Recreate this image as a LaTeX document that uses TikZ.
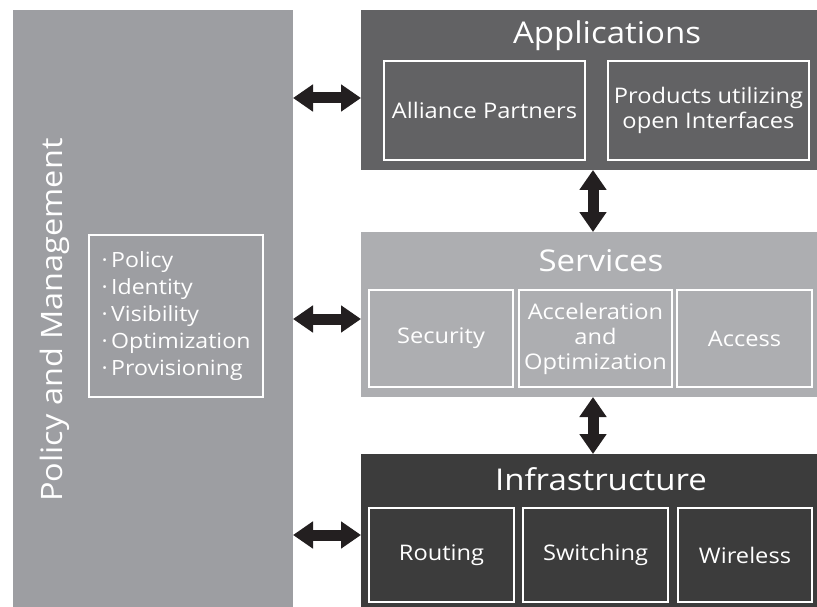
\documentclass[tikz,border=0pt]{standalone}
\usepackage{fontspec}
\setmainfont{Open Sans}[FakeStretch=1.1]
\usetikzlibrary{arrows.meta}
\definecolor{pmgray}{RGB}{157,158,162}
\definecolor{appgray}{RGB}{98,98,100}
\definecolor{svcgray}{RGB}{173,174,177}
\definecolor{infgray}{RGB}{60,60,60}
\definecolor{arrowc}{RGB}{35,31,32}
\begin{document}
\begin{tikzpicture}[x=1pt,y=-1pt,
  layer/.style={inner sep=0pt, outer sep=0pt, anchor=north west, draw=none},
  inbox/.style={draw=white, line width=1.4pt, text=white, align=center, inner sep=0pt, outer sep=0pt, anchor=north west, font=\fontsize{21.5}{25}\selectfont},
  titletxt/.style={text=white, anchor=base, inner sep=0pt, font=\fontsize{30}{30}\selectfont},
  biarrow/.style={arrowc, line width=11pt, {Triangle[length=20pt,width=26pt]}-{Triangle[length=20pt,width=26pt]}}
]
\useasboundingbox (0,0) rectangle (817,607);
\fill[white] (0,0) rectangle (817,607);
% layers
\node[layer, fill=pmgray, minimum width=280pt, minimum height=597pt] (pm) at (13,10) {};
\node[layer, fill=appgray, minimum width=456pt, minimum height=160pt] (app) at (361,10) {};
\node[layer, fill=svcgray, minimum width=456pt, minimum height=165pt] (svc) at (361,232) {};
\node[layer, fill=infgray, minimum width=456pt, minimum height=153pt] (inf) at (361,454) {};
% policy and management
\node[rotate=90, text=white, anchor=base, inner sep=0pt, font=\fontsize{29.5}{30}\selectfont] (pmt) at (62,320) {Policy and Management};
\node[inbox, minimum width=174pt, minimum height=162pt, align=left, font=\fontsize{21}{27}\selectfont] (list) at (89,235)
  {·\,Policy\\ ·\,Identity\\ ·\,Visibility\\ ·\,Optimization\\ ·\,Provisioning};
% applications
\node[titletxt] (appt) at (607,44) {Applications};
\node[inbox, minimum width=201pt, minimum height=99pt] (ap1) at (384,61) {Alliance Partners};
\node[inbox, minimum width=201pt, minimum height=99pt] (ap2) at (608,61) {Products utilizing\\open Interfaces};
% services
\node[titletxt] (svct) at (601,271) {Services};
\node[inbox, minimum width=144pt, minimum height=97pt] (sv1) at (369,290) {Security};
\node[inbox, minimum width=153pt, minimum height=97pt] (sv2) at (519,290) {Acceleration\\and\\Optimization};
\node[inbox, minimum width=135pt, minimum height=97pt] (sv3) at (677,290) {Access};
% infrastructure
\node[titletxt] (inft) at (601,490) {Infrastructure};
\node[inbox, minimum width=145pt, minimum height=94pt] (in1) at (369,508) {Routing};
\node[inbox, minimum width=145pt, minimum height=94pt] (in2) at (523,508) {Switching};
\node[inbox, minimum width=134pt, minimum height=94pt] (in3) at (678,508) {Wireless};
% arrows
\draw[biarrow] (pm.east |- 0,98) -- (app.west |- 0,98);
\draw[biarrow] (pm.east |- 0,319) -- (svc.west |- 0,319);
\draw[biarrow] (pm.east |- 0,535) -- (inf.west |- 0,535);
\draw[biarrow] (app.south -| 593,0) -- (svc.north -| 593,0);
\draw[biarrow] (svc.south -| 593,0) -- (inf.north -| 593,0);
\end{tikzpicture}
\end{document}
